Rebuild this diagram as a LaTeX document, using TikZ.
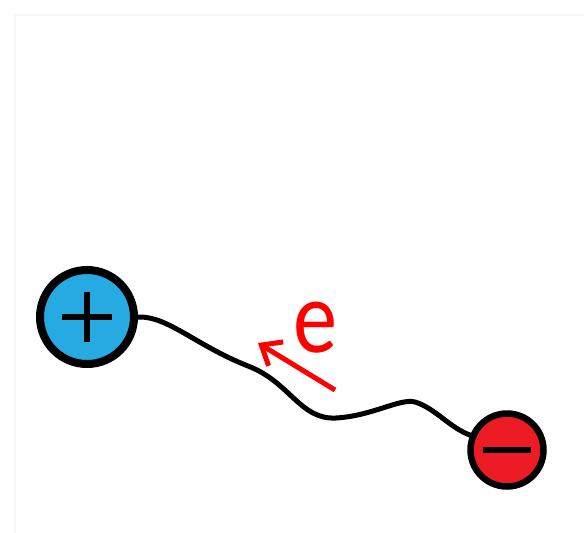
\documentclass[tikz,border=0pt]{standalone}
\usepackage{fontspec}
\usepackage{tikz}
\usepackage{xcolor}
\usetikzlibrary{positioning, arrows.meta, calc}
\setsansfont{Carlito}
\definecolor{cPos}  {HTML}{27A9E1}
\definecolor{cNeg}  {HTML}{ED1C24}
\definecolor{cFlow} {HTML}{FF0000}
\definecolor{cFrame}{HTML}{F6F6F6}

\begin{document}
\begin{tikzpicture}[x=1pt, y=-1pt,
    terminal/.style={circle, draw=black, inner sep=0pt},
    wire/.style={draw=black, line width=5pt, line cap=round},
    eflow/.style={draw=cFlow, line width=5pt, -{Straight Barb[length=17pt, width=28pt]}},
  ]
        \useasboundingbox (0,0) rectangle (584,533);
        % faint frame
        \draw[cFrame, line width=1.5pt] (15,533) -- (15,15) -- (584,15);
        % Battery terminals
        \node[terminal, fill=cPos, line width=8pt, minimum size=94pt] (pos) at (87,317) {};
        \node[terminal, fill=cNeg, line width=6.5pt, minimum size=73pt] (neg) at (507,450) {};
        \draw[line width=5.5pt] ($(pos.center)+(-25,0)$) -- ($(pos.center)+(25,0)$)
                                ($(pos.center)+(0,-25)$) -- ($(pos.center)+(0,25)$);
        \draw[line width=6pt] ($(neg.center)+(-24,0)$) -- ($(neg.center)+(24,0)$);
        % Conducting wire
        \draw[wire] (pos.east) .. controls (168,316) and (195,345) .. (248,366)
                    .. controls (290,382) and (300,420) .. (336,418)
                    .. controls (372,416) and (400,398) .. (415,402)
                    .. controls (435,408) and (450,428) .. (neg.158);
        % Electron flow
        \coordinate (etail) at (335,390);
        \coordinate (ehead) at (258,343);
        \draw[eflow] (etail) -- (ehead);
        \node[font=\sffamily\fontsize{104}{104}\selectfont, text=cFlow, inner sep=0pt] (elabel) at (315,328) {\scalebox{0.85}[1]{e}};
      \end{tikzpicture}
\end{document}
